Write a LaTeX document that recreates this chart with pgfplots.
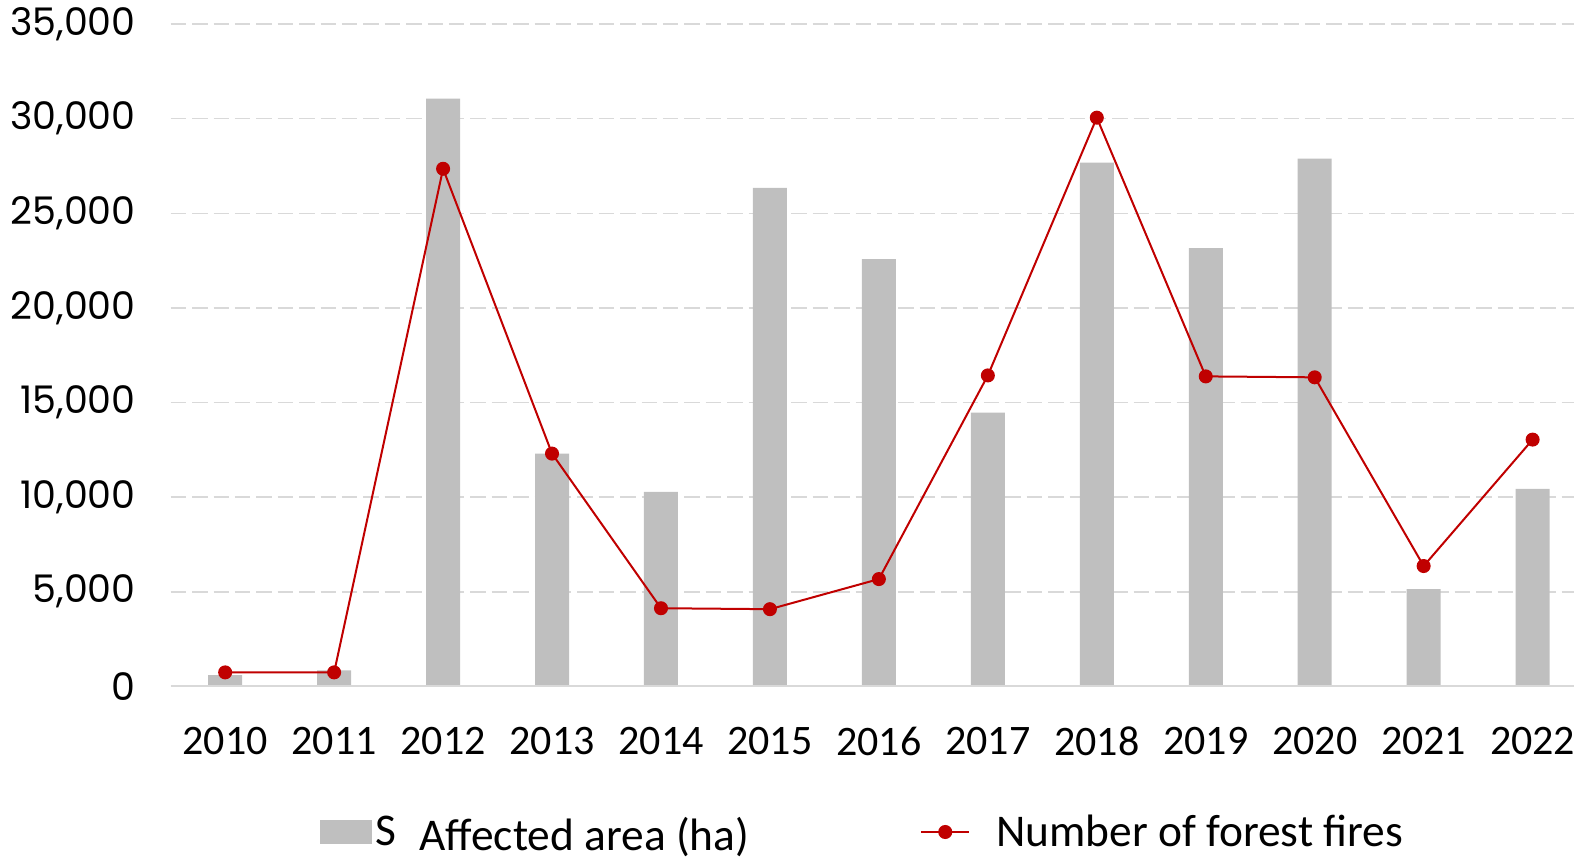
\documentclass[border=0pt]{standalone}
\usepackage{pgfplots}
\pgfplotsset{compat=1.18}
\usepackage{fontspec}
\setmainfont{Carlito}
\newfontfamily\ytickfont{Poppins}
\definecolor{bargray}{HTML}{BFBFBF}
\definecolor{firered}{HTML}{C00000}
\definecolor{gridgray}{HTML}{D9D9D9}
\begin{document}
\begin{tikzpicture}
\begin{axis}[
  at={(85.35pt,87.3pt)}, anchor=south west,
  scale only axis, width=701.65pt, height=331.2pt,
  xmin=-0.5, xmax=12.38, ymin=0, ymax=35000,
  axis line style={draw=none},
  xtick={0,...,12},
  xticklabels={2010,2011,2012,2013,2014,2015,2016,2017,2018,2019,2020,2021,2022},
  xticklabel style={font=\fontsize{21}{21}\selectfont, anchor=center, yshift=-27.4pt},
  ytick={0,5000,...,35000},
  scaled y ticks=false,
  /pgf/number format/.cd, 1000 sep={,}, assume math mode=true,
  /pgfplots/.cd,
  yticklabel style={font=\ytickfont\fontsize{19}{19}\selectfont, anchor=east, xshift=-14pt},
  major tick length=0pt,
  ymajorgrids,
  grid style={gridgray, line width=0.75pt, dash pattern=on 7.7pt off 3pt},
  legend style={at={(0.4938,-0.2198)}, anchor=center, draw=none, fill=none,
    legend columns=2, font=\fontsize{22.7}{22.7}\selectfont,
    /tikz/every even column/.append style={column sep=83.5pt}},
  legend cell align=left,
  clip=false,
]
\addplot[ybar, bar width=17pt, fill=bargray, draw=none,
  area legend,
  legend image code/.code={\fill[bargray] (0pt,-5.9pt) rectangle (25.9pt,5.9pt);}]
  coordinates {(0,600) (1,850) (2,31060) (3,12300) (4,10280) (5,26340) (6,22580)
  (7,14470) (8,27670) (9,23160) (10,27880) (11,5140) (12,10440)};
\addlegendentry{S\raisebox{-2.5pt}{\hspace{11.5pt}Affected area (ha)}}
\addplot[firered, line width=1pt, mark=*, mark size=3pt, mark options={fill=firered},
  legend image code/.code={\draw[firered, line width=1pt] (0pt,0pt) -- (24pt,0pt);
    \fill[firered] (12pt,0pt) circle (3pt); \path (35pt,0pt);}]
  coordinates {(0,740) (1,740) (2,27350) (3,12300) (4,4130) (5,4080) (6,5670)
  (7,16430) (8,30050) (9,16380) (10,16330) (11,6360) (12,13040)};
\addlegendentry{Number of forest fires}
\draw[gridgray, line width=1pt] (axis cs:-0.5,0) -- (axis cs:12.38,0);
\end{axis}
\pgfresetboundingbox
\useasboundingbox (0,0) rectangle (787pt,430.5pt);
\end{tikzpicture}
\end{document}
